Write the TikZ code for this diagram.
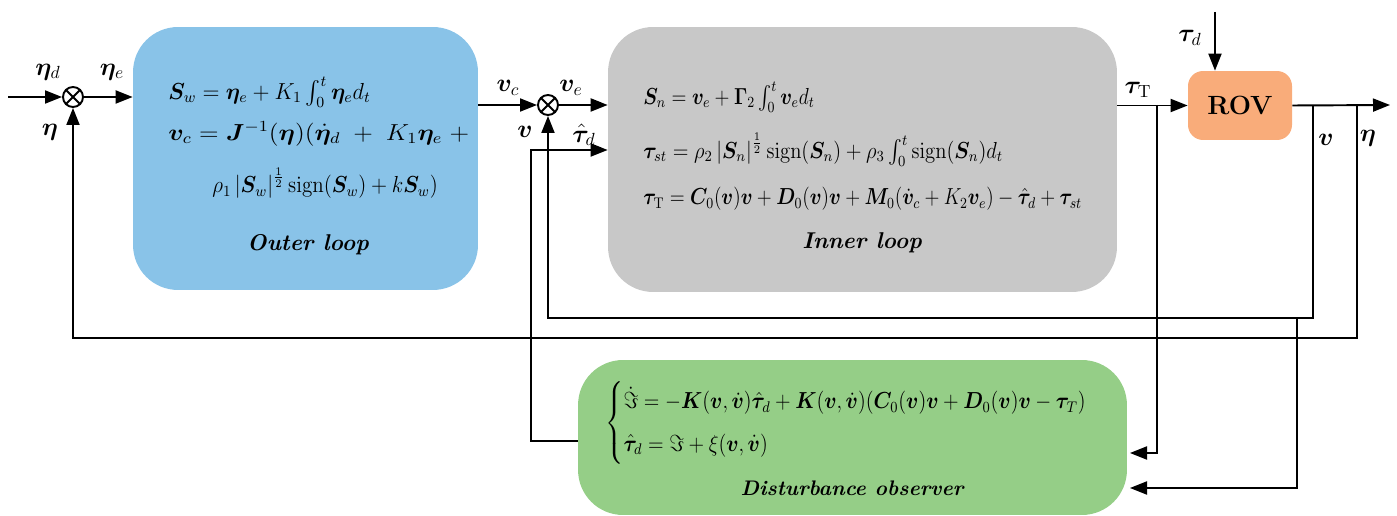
\documentclass[tikz,border=0pt]{standalone}
\usepackage{amsmath}
\usepackage{bm}
\usetikzlibrary{arrows.meta}
\definecolor{outerblue}{RGB}{137,195,232}
\definecolor{innergray}{RGB}{200,200,200}
\definecolor{rovorange}{RGB}{249,172,122}
\definecolor{obsgreen}{RGB}{149,206,135}
\tikzset{
  arr/.style={line width=1.1pt, -{Triangle[length=3.4mm,width=2.6mm]}},
  blk/.style={rounded corners=0.9cm, inner sep=0pt},
  sumnode/.style={circle, draw, line width=1.1pt, minimum size=0.4cm, inner sep=0pt,
    path picture={\draw[line width=1.1pt] (path picture bounding box.north west) -- (path picture bounding box.south east)
      (path picture bounding box.south west) -- (path picture bounding box.north east);}},
  eq/.style={anchor=west, inner sep=0pt, font=\fontsize{12}{15}\selectfont},
  lbl/.style={font=\fontsize{14.4}{17}\selectfont},
  title/.style={font=\fontsize{13}{16}\selectfont\bfseries\itshape}
}
\begin{document}
\begin{tikzpicture}[x=0.02cm, y=-0.02cm]
\useasboundingbox (0,0) rectangle (1397,516);
% blocks
\node[blk, fill=outerblue, minimum width=6.9cm, minimum height=5.26cm] (outer) at (305.5,158.5) {};
\node[blk, fill=innergray, minimum width=10.18cm, minimum height=5.3cm] (inner) at (862.5,159.5) {};
\node[blk, fill=obsgreen, minimum width=10.98cm, minimum height=3.1cm] (obs) at (852.5,437.5) {};
\node[blk, rounded corners=0.3cm, fill=rovorange, minimum width=2.08cm, minimum height=1.38cm,
  font=\fontsize{15}{18}\selectfont\bfseries] (rov) at (1240,105.5) {ROV};
% summing junctions
\node[sumnode] (s1) at (73,97) {};
\node[sumnode] (s2) at (548,105) {};
% outer loop
\node[eq] (sw) at (168,92) {\scalebox{1.06}[1.1]{$\bm{S}_w = \bm{\eta}_e + K_1\int_0^t \bm{\eta}_e d_t$}};
\node[eq] (vc) at (168,134) {\scalebox{1.22}[1.1]{$\bm{v}_c = \bm{J}^{-1}(\bm{\eta})(\dot{\bm{\eta}}_d \;+\; K_1\bm{\eta}_e \;+$}};
\node[eq] (vc2) at (212,183) {\scalebox{1}[1.1]{$\rho_1\left|\bm{S}_w\right|^{\frac{1}{2}}\mathrm{sign}(\bm{S}_w) + k\bm{S}_w)$}};
\node[title] (outt) at (308,245) {Outer loop};
% inner loop
\node[eq] (sn) at (643,97) {\scalebox{0.93}[1.1]{$\bm{S}_n = \bm{v}_e + \bm{\Gamma}_2\int_0^t \bm{v}_e d_t$}};
\node[eq] (tst) at (643,150) {\scalebox{0.98}[1.1]{$\bm{\tau}_{st} = \rho_2\left|\bm{S}_n\right|^{\frac{1}{2}}\mathrm{sign}(\bm{S}_n) + \rho_3\int_0^t \mathrm{sign}(\bm{S}_n) d_t$}};
\node[eq] (tT) at (643,199) {\scalebox{0.93}[1.1]{$\bm{\tau}_{\mathrm{T}} = \bm{C}_0(\bm{v})\bm{v} + \bm{D}_0(\bm{v})\bm{v} + \bm{M}_0(\dot{\bm{v}}_c + K_2\bm{v}_e) - \hat{\bm{\tau}}_d + \bm{\tau}_{st}$}};
\node[title] (innt) at (862,243) {Inner loop};
% observer
\node[eq] (dob) at (605,423) {\scalebox{0.97}[1.1]{$\begin{cases}
  \dot{\Im} = -\bm{K}(\bm{v},\dot{\bm{v}})\hat{\bm{\tau}}_d + \bm{K}(\bm{v},\dot{\bm{v}})(\bm{C}_0(\bm{v})\bm{v} + \bm{D}_0(\bm{v})\bm{v} - \bm{\tau}_T)\\[4pt]
  \hat{\bm{\tau}}_d = \Im + \xi(\bm{v},\dot{\bm{v}})
\end{cases}$}};
\node[title, font=\fontsize{12}{15}\selectfont\bfseries\itshape] (obst) at (852,488) {Disturbance observer};
% signal labels
\node[lbl] (letad) at (48,72) {$\bm{\eta}_{d}$};
\node[lbl] (letae) at (112,72) {$\bm{\eta}_{e}$};
\node[lbl] (leta) at (50,132) {$\bm{\eta}$};
\node[lbl] (lvc) at (508,88) {$\bm{v}_{c}$};
\node[lbl] (lve) at (571,88) {$\bm{v}_{e}$};
\node[lbl] (lv) at (525,132) {$\bm{v}$};
\node[lbl] (lth) at (584,135) {$\hat{\bm{\tau}}_d$};
\node[lbl] (ltT) at (1138,90) {$\bm{\tau}_{\mathrm{T}}$};
\node[lbl] (ltd) at (1190,38) {$\bm{\tau}_d$};
\node[lbl] (lvo) at (1326,140) {$\bm{v}$};
\node[lbl] (letao) at (1368,138) {$\bm{\eta}$};
% free ends and branch points
\coordinate (in) at (8,97);
\coordinate (td) at (1215,12);
\coordinate (out) at (1390,105);
\coordinate (tTb) at (1157,105);
\coordinate (vb) at (1313,105);
\coordinate (etab) at (1357,105);
\coordinate (vcorner) at (1313,318);
\coordinate (etacorner) at (1357,338);
\coordinate (vdrop) at (1297,318);
\coordinate (thl) at (531,150);
\coordinate (obsA) at (1130,453);
\coordinate (obsB) at (1130,488);
% forward path
\draw[arr] (in) -- (s1.west);
\draw[arr] (s1.east) -- (s1.east -| outer.west);
\draw[arr] (outer.east |- s2) -- (s2.west);
\draw[arr] (s2.east) -- (s2.east -| inner.west);
\draw[arr] (inner.east |- rov) -- (rov.west);
\draw[arr] (td) -- (rov.north -| td);
\draw[arr] (rov.east) -- (out);
% feedback
\draw[arr] (etab) -- (etacorner) -| (s1.south);
\draw[arr] (vb) -- (vcorner) -| (s2.south);
\draw[arr] (tTb) |- (obsA);
\draw[arr] (vdrop) |- (obsB);
\draw[arr] (obs.west |- 0,441) -| (thl) -- (thl -| inner.west);
\end{tikzpicture}
\end{document}
